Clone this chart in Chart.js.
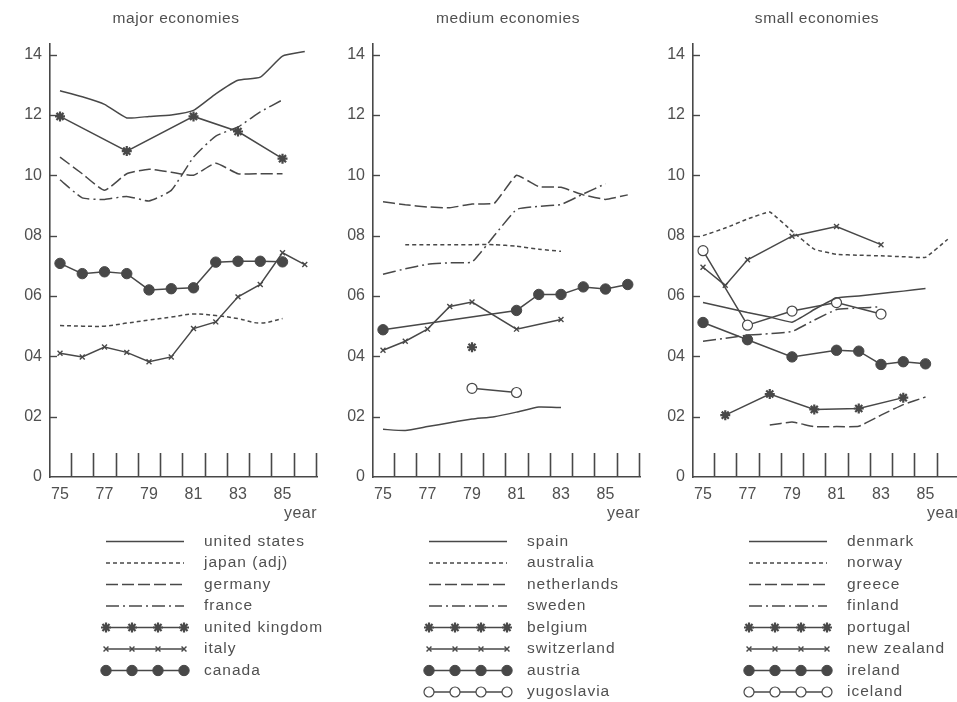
<!DOCTYPE html>
<html>
<head>
<meta charset="utf-8">
<script src="https://cdn.jsdelivr.net/npm/chart.js@4/dist/chart.umd.min.js"></script>
<style>
  body { margin: 0; width: 957px; height: 702px; overflow: hidden; background: #fff; position: relative; }
  canvas { position: absolute; top: 0; }
</style>
</head>
<body>
<canvas id="major" width="330" height="702" style="left:0px"></canvas>
<canvas id="medium" width="330" height="702" style="left:323px"></canvas>
<canvas id="small" width="330" height="702" style="left:643px"></canvas>
<script>
const years = [75, 76, 77, 78, 79, 80, 81, 82, 83, 84, 85, 86];
const yearLabels = [75, 77, 79, 81, 83, 85];
const valueTicks = [0, 2, 4, 6, 8, 10, 12, 14];

// major economies
const unitedStates = [12.8, 12.6, 12.35, 11.9, 11.95, 12.0, 12.15, 12.7, 13.15, 13.25, 13.95, 14.1];
const japan = [5.02, 5.0, 5.0, 5.1, 5.2, 5.3, 5.4, 5.35, 5.25, 5.1, 5.25, null];
const germany = [10.6, 10.05, 9.5, 10.05, 10.2, 10.1, 10.0, 10.4, 10.05, 10.05, 10.05, null];
const france = [9.85, 9.25, 9.2, 9.3, 9.15, 9.5, 10.6, 11.3, 11.6, 12.1, 12.5, null];
const unitedKingdom = [11.95, null, null, 10.8, null, null, 11.95, null, 11.45, null, 10.55, null];
const italy = [4.1, 3.98, 4.31, 4.13, 3.82, 3.98, 4.92, 5.14, 5.97, 6.38, 7.43, 7.04];
const canada = [7.08, 6.74, 6.8, 6.74, 6.2, 6.24, 6.27, 7.12, 7.15, 7.15, 7.13, null];

// medium economies
const spain = [1.58, 1.54, 1.67, 1.8, 1.92, 2.0, 2.15, 2.32, 2.3, null, null, null];
const australia = [null, 7.7, 7.7, 7.7, 7.7, 7.7, 7.65, 7.55, 7.48, null, null, null];
const netherlands = [9.12, 9.02, 8.95, 8.92, 9.05, 9.07, 10.0, 9.62, 9.6, 9.35, 9.2, 9.35];
const sweden = [6.72, 6.9, 7.05, 7.1, 7.12, 8.0, 8.87, 8.97, 9.03, 9.38, 9.72, null];
const belgium = [null, null, null, null, 4.3, null, null, null, null, null, null, null];
const switzerland = [4.2, 4.5, 4.9, 5.65, 5.8, null, 4.9, null, 5.22, null, null, null];
const austria = [4.88, null, null, null, null, null, 5.52, 6.05, 6.05, 6.3, 6.23, 6.38];
const yugoslavia = [null, null, null, null, 2.94, null, 2.8, null, null, null, null, null];

// small economies
const denmark = [5.78, 5.62, 5.45, 5.3, 5.13, 5.55, 5.93, 6.0, 6.08, 6.16, 6.25, null];
const norway = [8.0, 8.25, 8.55, 8.78, 8.15, 7.55, 7.38, 7.35, 7.33, 7.3, 7.28, 7.88];
const greece = [null, null, null, 1.72, 1.82, 1.67, 1.67, 1.68, 2.05, 2.4, 2.65, null];
const finland = [4.5, 4.6, 4.7, 4.75, 4.82, 5.2, 5.55, 5.6, 5.64, null, null, null];
const portugal = [null, 2.05, null, 2.75, null, 2.24, null, 2.27, null, 2.63, null, null];
const newZealand = [6.95, 6.35, 7.2, null, 7.98, null, 8.3, null, 7.7, null, null, null];
const ireland = [5.12, null, 4.55, null, 3.98, null, 4.2, 4.17, 3.73, 3.82, 3.75, null];
const iceland = [7.5, null, 5.03, null, 5.5, null, 5.78, null, 5.4, null, null, null];

const ink = '#484848';
const textInk = '#505050';
const font = "'Liberation Sans', Arial, sans-serif";

const styles = {
  solid: { borderDash: [], pointStyle: false },
  short: { borderDash: [4, 3], pointStyle: false },
  long: { borderDash: [12, 4], pointStyle: false },
  dashdot: { borderDash: [13, 4, 2, 4], pointStyle: false },
  star: { borderDash: [], pointStyle: 'star', pointRadius: 5, pointBorderWidth: 2.2, fill: ink },
  cross: { borderDash: [], pointStyle: 'crossRot', pointRadius: 3.5, pointBorderWidth: 1.4, fill: ink },
  dot: { borderDash: [], pointStyle: 'circle', pointRadius: 5.2, pointBorderWidth: 1, fill: ink },
  ring: { borderDash: [], pointStyle: 'circle', pointRadius: 5, pointBorderWidth: 1.2, fill: '#fff' }
};

function series(label, values, kind, tension) {
  const s = styles[kind];
  const pts = [];
  values.forEach((v, i) => { if (v !== null) pts.push({ x: years[i], y: v }); });
  return {
    label: label,
    data: pts,
    borderColor: ink,
    borderWidth: 1.5,
    borderDash: s.borderDash,
    tension: tension || 0,
    pointStyle: s.pointStyle,
    pointRadius: s.pointStyle ? s.pointRadius : 0,
    pointBorderWidth: s.pointBorderWidth || 1,
    pointBackgroundColor: s.fill || ink,
    pointBorderColor: ink,
    showLine: values.filter(v => v !== null).length > 1
  };
}

const decor = {
  id: 'decor',
  afterDraw(chart, args, opts) {
    const ctx = chart.ctx;
    const xs = chart.scales.x, ys = chart.scales.y;
    const area = chart.chartArea;
    ctx.save();
    // title
    ctx.fillStyle = textInk;
    ctx.font = '15.5px ' + font;
    ctx.letterSpacing = '0.6px';
    ctx.textAlign = 'center';
    ctx.textBaseline = 'middle';
    ctx.fillText(opts.title, opts.titleX, 19);
    // tall ticks between years
    ctx.strokeStyle = ink;
    ctx.lineWidth = 1.6;
    years.forEach(yr => {
      const px = Math.round(xs.getPixelForValue(yr + 0.5)) + 0.5;
      ctx.beginPath();
      ctx.moveTo(px, area.bottom);
      ctx.lineTo(px, area.bottom - 24);
      ctx.stroke();
    });
    // short inward ticks on the value axis
    ctx.lineWidth = 1.4;
    valueTicks.forEach(v => {
      if (v === 0) return;
      const py = Math.round(ys.getPixelForValue(v)) + 0.5;
      ctx.beginPath();
      ctx.moveTo(area.left, py);
      ctx.lineTo(area.left + 7, py);
      ctx.stroke();
    });
    // axis caption
    ctx.fillStyle = textInk;
    ctx.font = '16px ' + font;
    ctx.letterSpacing = '0.5px';
    ctx.textAlign = 'right';
    ctx.fillText('year', area.right, 514);
    // legend
    const x0 = 106, x1 = 184, tx = 204;
    chart.data.datasets.forEach((ds, i) => {
      const y = 541.5 + i * 21.5;
      ctx.strokeStyle = ink;
      ctx.lineWidth = 1.5;
      ctx.setLineDash(ds.borderDash);
      ctx.beginPath();
      ctx.moveTo(x0, y);
      ctx.lineTo(x1, y);
      ctx.stroke();
      ctx.setLineDash([]);
      if (ds.pointStyle) {
        for (let k = 0; k < 4; k++) {
          const mx = x0 + (x1 - x0) * k / 3;
          ctx.fillStyle = ds.pointBackgroundColor;
          ctx.strokeStyle = ink;
          ctx.lineWidth = ds.pointBorderWidth;
          Chart.helpers.drawPoint(ctx, { pointStyle: ds.pointStyle, radius: ds.pointRadius, borderWidth: ds.pointBorderWidth, rotation: 0 }, mx, y);
        }
      }
      ctx.fillStyle = textInk;
      ctx.font = '15.5px ' + font;
      ctx.letterSpacing = '1px';
      ctx.textAlign = 'left';
      ctx.fillText(ds.label, tx, y);
    });
    ctx.restore();
  }
};

function makePanel(id, title, titleX, datasets) {
  return new Chart(document.getElementById(id), {
    type: 'line',
    data: { datasets: datasets },
    plugins: [decor],
    options: {
      responsive: false,
      animation: false,
      devicePixelRatio: 1,
      layout: { padding: { left: 10, top: 44, right: 13, bottom: 195 } },
      plugins: {
        legend: { display: false },
        tooltip: { enabled: false },
        decor: { title: title, titleX: titleX }
      },
      scales: {
        x: {
          type: 'linear',
          min: 74.55,
          max: 86.55,
          afterBuildTicks: s => { s.ticks = yearLabels.map(v => ({ value: v })); },
          afterFit: s => { s.height = 30; },
          grid: { display: false, drawTicks: false },
          border: { display: true, color: ink, width: 1.6 },
          ticks: { color: textInk, font: { family: font, size: 16 }, padding: 8, maxRotation: 0, autoSkip: false }
        },
        y: {
          min: 0,
          max: 14.35,
          afterBuildTicks: s => { s.ticks = valueTicks.map(v => ({ value: v })); },
          afterFit: s => { s.width = 40; },
          grid: { display: false, drawTicks: false },
          border: { display: true, color: ink, width: 1.6 },
          ticks: {
            color: textInk, font: { family: font, size: 16 }, padding: 8,
            callback: v => v === 0 ? '0' : (v < 10 ? '0' + v : String(v))
          }
        }
      }
    }
  });
}

makePanel('major', 'major economies', 176, [
  series('united states', unitedStates, 'solid', 0.15),
  series('japan (adj)', japan, 'short', 0.4),
  series('germany', germany, 'long', 0.15),
  series('france', france, 'dashdot', 0.15),
  series('united kingdom', unitedKingdom, 'star'),
  series('italy', italy, 'cross'),
  series('canada', canada, 'dot')
]);

makePanel('medium', 'medium economies', 185, [
  series('spain', spain, 'solid', 0.15),
  series('australia', australia, 'short', 0.2),
  series('netherlands', netherlands, 'long', 0.1),
  series('sweden', sweden, 'dashdot', 0.1),
  series('belgium', belgium, 'star'),
  series('switzerland', switzerland, 'cross'),
  series('austria', austria, 'dot'),
  series('yugoslavia', yugoslavia, 'ring')
]);

makePanel('small', 'small economies', 174, [
  series('denmark', denmark, 'solid', 0.1),
  series('norway', norway, 'short', 0.1),
  series('greece', greece, 'long', 0.1),
  series('finland', finland, 'dashdot', 0.1),
  series('portugal', portugal, 'star'),
  series('new zealand', newZealand, 'cross'),
  series('ireland', ireland, 'dot'),
  series('iceland', iceland, 'ring')
]);
</script>
</body>
</html>
